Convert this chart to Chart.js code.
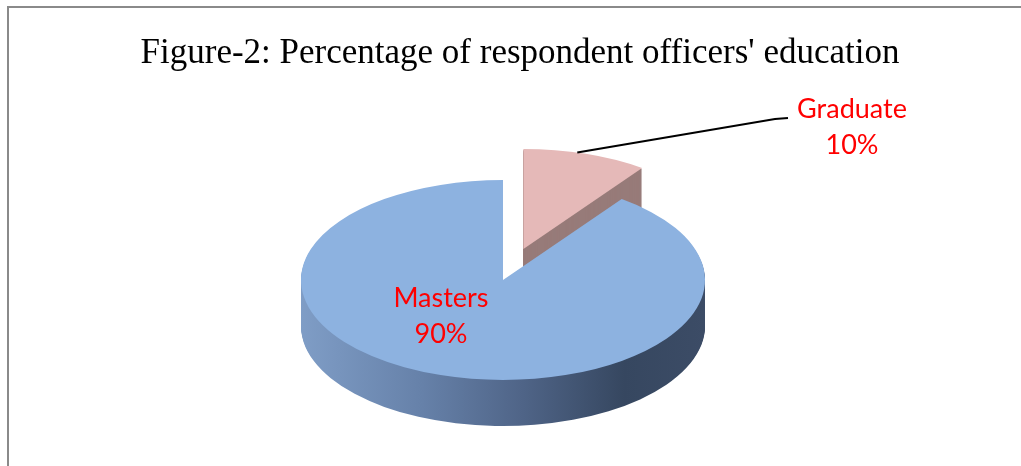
<!DOCTYPE html>
<html>
<head>
<meta charset="utf-8">
<title>Respondent officers' education</title>
<script src="https://cdn.jsdelivr.net/npm/chart.js@4/dist/chart.umd.min.js"></script>
<style>
  html, body { margin: 0; padding: 0; background: #fff; }
  canvas { display: block; }
</style>
</head>
<body>
<canvas id="chart" width="1021" height="466"></canvas>
<script>
const titleText = "Figure-2: Percentage of respondent officers' education"
const categories = ['Graduate', 'Masters']
const percentages = [10, 90]

// look of the tilted pie
const topColors = ['#e5b9b8', '#8db2e0']
const cutColor = '#977b79'
const labelColor = '#ff0000'
const pieCenterY = 280
const tilt = 0.495
const depth = 46
const explode = [66, 0]

// where the data labels sit
const labelSpots = [
  { x: 852, y: 118 },
  { x: 441, y: 307 },
]

const ctx = document.getElementById('chart').getContext('2d')

const explodeShift = (arc, i) => {
  const mid = (arc.startAngle + arc.endAngle) / 2
  return [Math.cos(mid) * explode[i], Math.sin(mid) * explode[i]]
}

// squash the flat pie into an ellipse, optionally pushed down by `lift` px
const place = (c, arc, i, lift) => {
  const [dx, dy] = explodeShift(arc, i)
  c.translate(arc.x, pieCenterY + lift)
  c.scale(1, tilt)
  c.translate(-arc.x + dx, -arc.y + dy)
}

const toScreen = (arc, i, angle) => {
  const [dx, dy] = explodeShift(arc, i)
  const ux = arc.x + dx + Math.cos(angle) * arc.outerRadius
  const uy = dy + Math.sin(angle) * arc.outerRadius
  return [ux, pieCenterY + uy * tilt]
}

const pie3d = {
  id: 'pie3d',
  beforeDraw(chart) {
    const { ctx: c, width, height } = chart
    c.save()
    c.fillStyle = '#fff'
    c.fillRect(0, 0, width, height)
    c.strokeStyle = '#8a8a8a'
    c.lineWidth = 2
    c.beginPath()
    c.moveTo(8, height)
    c.lineTo(8, 7)
    c.lineTo(width, 7)
    c.stroke()
    c.fillStyle = '#000'
    c.font = '35px "Liberation Serif", "Times New Roman", serif'
    c.textAlign = 'center'
    c.textBaseline = 'alphabetic'
    c.fillText(titleText, 520, 63)
    c.restore()
  },
  beforeDatasetsDraw(chart) {
    const c = chart.ctx
    const arcs = chart.getDatasetMeta(0).data
    const front = arcs[1]
    const wall = c.createLinearGradient(front.x - front.outerRadius, 0, front.x + front.outerRadius, 0)
    wall.addColorStop(0, '#7f9dc6')
    wall.addColorStop(0.3, '#6681a9')
    wall.addColorStop(0.55, '#4f6487')
    wall.addColorStop(0.8, '#364760')
    wall.addColorStop(1, '#3c4c66')

    // back slice first so the front one covers it
    arcs.forEach((arc, i) => {
      c.save()
      c.fillStyle = i === 1 ? wall : cutColor
      for (let lift = depth; lift > 0; lift--) {
        c.save()
        place(c, arc, i, lift)
        c.beginPath()
        c.moveTo(arc.x, arc.y)
        c.arc(arc.x, arc.y, arc.outerRadius, arc.startAngle, arc.endAngle)
        c.closePath()
        c.fill()
        c.restore()
      }
      c.restore()
      c.save()
      place(c, arc, i, 0)
      arc.draw(c)
      c.restore()
    })
    return false
  },
  afterDraw(chart) {
    const c = chart.ctx
    const arcs = chart.getDatasetMeta(0).data
    const back = arcs[0]

    // leader line from the graduate slice to its label
    const [sx, sy] = toScreen(back, 0, -Math.PI / 2 + 0.27)
    c.save()
    c.strokeStyle = '#000'
    c.lineWidth = 2
    c.beginPath()
    c.moveTo(sx, sy)
    c.lineTo(775, 119)
    c.lineTo(788, 118)
    c.stroke()

    c.fillStyle = labelColor
    c.font = '27px Lato, "Open Sans", sans-serif'
    c.textAlign = 'center'
    c.textBaseline = 'alphabetic'
    categories.forEach((name, i) => {
      const spot = labelSpots[i]
      c.fillText(name, spot.x, spot.y)
      c.fillText(percentages[i] + '%', spot.x, spot.y + 36)
    })
    c.restore()
  },
}

const chart = new Chart(ctx, {
  type: 'pie',
  data: {
    labels: categories,
    datasets: [
      {
        data: percentages,
        backgroundColor: topColors,
        borderWidth: 0,
        radius: 202,
      },
    ],
  },
  options: {
    responsive: false,
    devicePixelRatio: 1,
    animation: false,
    events: [],
    layout: { padding: { right: 15 } },
    plugins: {
      legend: { display: false },
      tooltip: { enabled: false },
      title: { display: false },
    },
  },
  plugins: [pie3d],
})
</script>
</body>
</html>
